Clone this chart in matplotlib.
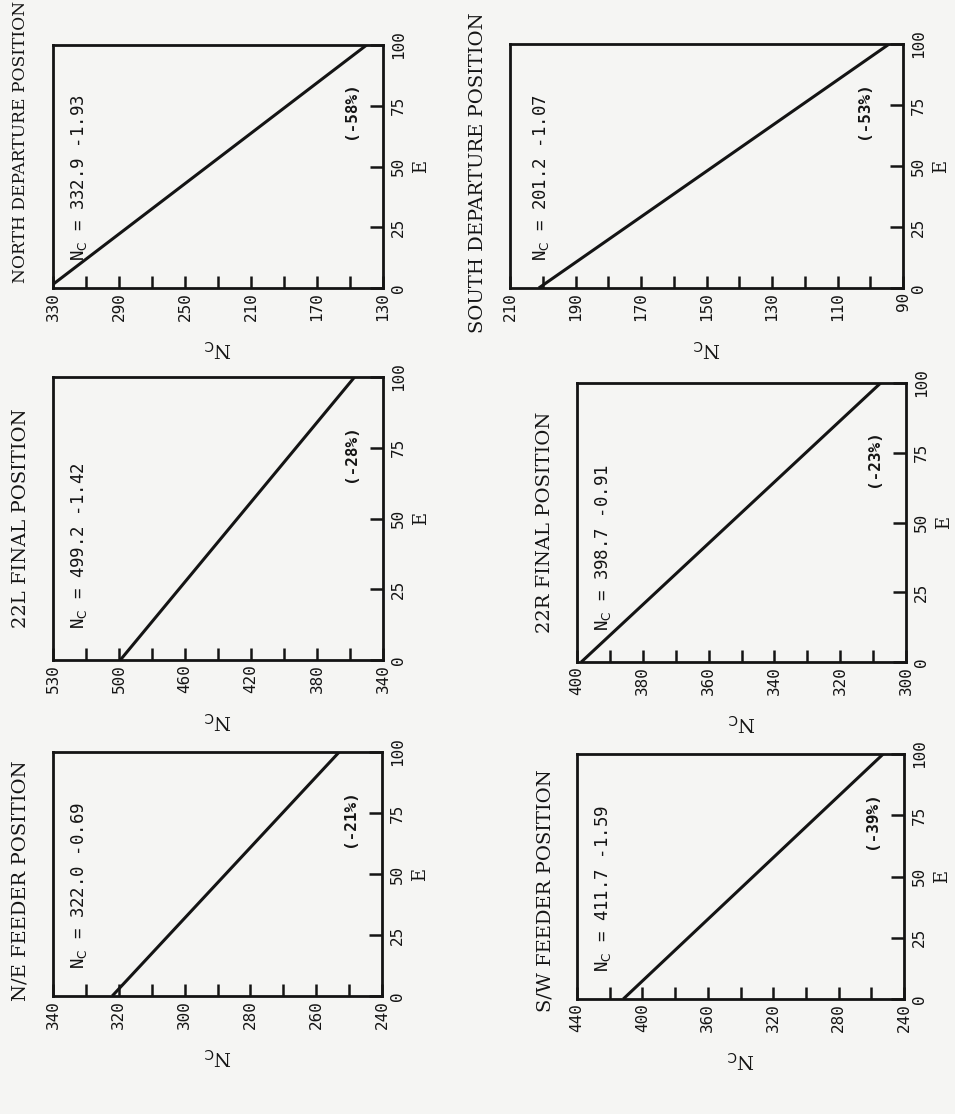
import matplotlib
matplotlib.use("Agg")
import matplotlib.pyplot as plt
import numpy as np
from matplotlib.ticker import FixedLocator

plt.rcParams["mathtext.fontset"] = "dejavusans"

# six panels, order: left column top->bottom, then right column top->bottom
titles = ["NORTH DEPARTURE POSITION", "22L FINAL POSITION", "N/E FEEDER POSITION",
          "SOUTH DEPARTURE POSITION", "22R FINAL POSITION", "S/W FEEDER POSITION"]
intercepts = [332.9, 499.2, 322.0, 201.2, 398.7, 411.7]
slopes = [1.93, 1.42, 0.69, 1.07, 0.91, 1.59]
pct_labels = ["(-58%)", "(-28%)", "(-21%)", "(-53%)", "(-23%)", "(-39%)"]

# line end points (N_C at E = 0 and E = 100)
e_points = [0, 100]
nc_at_e0 = [332.9, 499.2, 322.0, 201.2, 398.7, 411.7]
nc_at_e100 = [139.9, 357.2, 253.0, 94.2, 307.7, 252.7]

nc_limits = [(330, 130), (540, 340), (340, 240), (210, 90), (400, 300), (440, 240)]
nc_tick_pos = [[330, 290, 250, 210, 170, 130],
               [540, 500, 460, 420, 380, 340],
               [340, 320, 300, 280, 260, 240],
               [210, 190, 170, 150, 130, 110, 90],
               [400, 380, 360, 340, 320, 300],
               [440, 400, 360, 320, 280, 240]]
nc_tick_labels = [["330", "290", "250", "210", "170", "130"],
                  ["530", "500", "460", "420", "380", "340"],
                  ["340", "320", "300", "280", "260", "240"],
                  ["210", "190", "170", "150", "130", "110", "90"],
                  ["400", "380", "360", "340", "320", "300"],
                  ["440", "400", "360", "320", "280", "240"]]
nc_minor_step = [20, 20, 10, 10, 10, 20]
e_ticks = [0, 25, 50, 75, 100]
e_tick_labels = ["0", "25", "50", "75", "100"]

# layout: box pixels (x0, y0, x1, y1) from top-left of a 955x1114 page
W, H = 955, 1114
boxes = [(53, 45, 383, 288), (53, 377, 383, 660), (53, 752, 382, 996),
         (510, 44, 903, 288), (577, 383, 906, 662), (577, 754, 904, 999)]
title_shift = [-25, 0, 7, 7, 0, 14]
title_size = [12.3, 14, 14, 14, 14, 14]

bg = "#f5f5f3"
ink = "#141414"
mono = "DejaVu Sans Mono"
serif = "DejaVu Serif"

fig = plt.figure(figsize=(W / 100, H / 100), dpi=100, facecolor=bg)

for i in range(6):
    x0, y0, x1, y1 = boxes[i]
    bw, bh = x1 - x0, y1 - y0
    ax = fig.add_axes([x0 / W, 1 - y1 / H, bw / W, bh / H])
    ax.set_facecolor(bg)
    ax.plot([nc_at_e0[i], nc_at_e100[i]], e_points, color=ink, lw=2.2,
            solid_capstyle="butt")
    lo, hi = nc_limits[i]
    ax.set_xlim(lo, hi)
    ax.set_ylim(0, 100)

    ax.xaxis.set_major_locator(FixedLocator(nc_tick_pos[i]))
    ax.xaxis.set_minor_locator(FixedLocator(np.arange(lo, hi - 1, -nc_minor_step[i])))
    ax.set_xticklabels(nc_tick_labels[i], rotation=90, fontfamily=mono,
                       fontsize=11.5, color=ink)
    ax.set_yticks(e_ticks)
    ax.set_yticklabels(e_tick_labels, rotation=90, va="center", fontfamily=mono,
                       fontsize=11.5, color=ink)
    ax.tick_params(axis="x", which="both", direction="in", length=8.5, width=1.8,
                   bottom=True, top=False, pad=3, colors=ink)
    ax.tick_params(axis="y", direction="in", length=9.5, width=1.8, left=False,
                   right=True, labelleft=False, labelright=True, pad=6, colors=ink)
    for s in ax.spines.values():
        s.set_linewidth(2.0)
        s.set_color(ink)

    eq = "N$_{\\mathrm{C}}$ = %.1f -%.2f" % (intercepts[i], slopes[i])
    ax.text(0.08, 0.11, eq, rotation=90, ha="center", va="bottom",
            transform=ax.transAxes, fontfamily=mono, fontsize=12.5, color=ink)
    ax.text(0.9, 0.73, pct_labels[i], rotation=90, ha="center", va="center",
            transform=ax.transAxes, fontfamily=mono, fontsize=11.5,
            fontweight="bold", color=ink)

    ax.text(-32 / bw, 0.5 - title_shift[i] / bh, titles[i], rotation=90,
            ha="center", va="center", transform=ax.transAxes, fontfamily=serif,
            fontsize=title_size[i], color=ink)
    ax.text(0.5, -60 / bh, "N$_{\\mathrm{C}}$", rotation=180, ha="center",
            va="center", transform=ax.transAxes, fontfamily=serif, fontsize=14,
            color=ink)
    ax.text(1 + 38 / bw, 0.5, "E", rotation=90, ha="center", va="center",
            transform=ax.transAxes, fontfamily=serif, fontsize=13, color=ink)

fig.savefig("out.png", dpi=100, facecolor=bg)
